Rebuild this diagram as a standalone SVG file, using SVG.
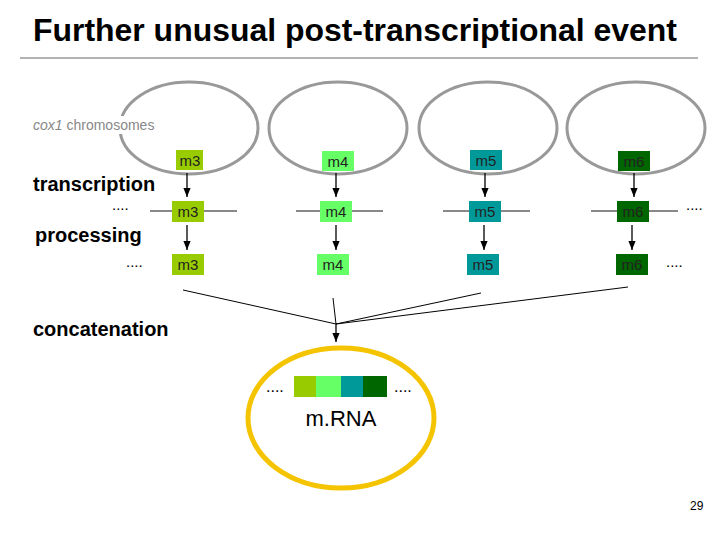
<svg xmlns="http://www.w3.org/2000/svg" width="720" height="540" viewBox="0 0 720 540">
<defs><marker id="a" viewBox="0 0 10 10" refX="10" refY="5" markerWidth="7" markerHeight="7" orient="auto"><path d="M0,1L10,5L0,9z" fill="#000"/></marker></defs>
<style>
text{font-family:"Liberation Sans",Arial,sans-serif}
.chr{fill:none;stroke:#999;stroke-width:3}
.b{font-size:15px;fill:#222;text-anchor:middle}
.lbl{font-size:20px;font-weight:bold}
.ar{stroke:#000;stroke-width:1.3;marker-end:url(#a)}
.gl{stroke:#888;stroke-width:2}
.c3{fill:#99cc00}.c4{fill:#66ff66}.c5{fill:#009999}.c6{fill:#006600}
</style>
<rect width="720" height="540" fill="#fff"/>
<text x="33" y="41" font-size="31" font-weight="bold" textLength="644" lengthAdjust="spacingAndGlyphs">Further unusual post-transcriptional event</text>
<line x1="20" y1="58" x2="698" y2="58" stroke="#666" stroke-width="1"/>
<g id="chromosomes">
<ellipse class="chr" cx="189" cy="128" rx="69" ry="46"/>
<ellipse class="chr" cx="338" cy="128" rx="69" ry="46"/>
<ellipse class="chr" cx="488" cy="128" rx="69" ry="46"/>
<ellipse class="chr" cx="636" cy="128" rx="69" ry="46"/>
<rect x="110" y="116" width="62" height="18" fill="#fff"/>
<text x="33" y="130" font-size="14" fill="#888"><tspan font-style="italic">cox1</tspan> chromosomes</text>
</g>
<text class="lbl" x="33" y="191">transcription</text>
<text class="lbl" x="35" y="242">processing</text>
<text class="lbl" x="33" y="336">concatenation</text>
<g id="connectors">
<line class="gl" x1="150" y1="211" x2="237" y2="211"/>
<line class="gl" x1="296" y1="211" x2="383" y2="211"/>
<line class="gl" x1="443" y1="211" x2="530" y2="211"/>
<line class="gl" x1="591" y1="211" x2="678" y2="211"/>
<line class="ar" x1="187" y1="173" x2="187" y2="197"/>
<line class="ar" x1="336" y1="173" x2="336" y2="197"/>
<line class="ar" x1="485" y1="173" x2="485" y2="197"/>
<line class="ar" x1="634" y1="173" x2="634" y2="197"/>
<line class="ar" x1="187" y1="225" x2="187" y2="250"/>
<line class="ar" x1="336" y1="225" x2="336" y2="250"/>
<line class="ar" x1="484" y1="225" x2="484" y2="250"/>
<line class="ar" x1="632" y1="225" x2="632" y2="250"/>
<g stroke="#000" stroke-width="1" fill="none">
<line x1="183" y1="290" x2="336" y2="324"/>
<line x1="333" y1="298" x2="336" y2="324"/>
<line x1="481" y1="293" x2="336" y2="324"/>
<line x1="628" y1="287" x2="336" y2="324"/>
</g>
<line class="ar" x1="336" y1="324" x2="336" y2="342"/>
</g>
<g id="row1">
<rect class="c3" x="176" y="150" width="27" height="20"/><text class="b" x="190" y="166">m3</text>
<rect class="c4" x="322" y="151" width="32" height="20"/><text class="b" x="338" y="167">m4</text>
<rect class="c5" x="470" y="150" width="32" height="20"/><text class="b" x="486" y="166">m5</text>
<rect class="c6" x="618" y="151" width="32" height="20"/><text class="b" x="634" y="167">m6</text>
</g>
<g id="row2">
<text x="112" y="210" font-size="15">....</text>
<rect class="c3" x="172" y="201" width="32" height="21"/><text class="b" x="188" y="217">m3</text>
<rect class="c4" x="320" y="201" width="32" height="21"/><text class="b" x="336" y="217">m4</text>
<rect class="c5" x="469" y="201" width="32" height="21"/><text class="b" x="485" y="217">m5</text>
<rect class="c6" x="617" y="201" width="32" height="21"/><text class="b" x="633" y="217">m6</text>
<text x="686" y="210" font-size="15">....</text>
</g>
<g id="row3">
<text x="126" y="267" font-size="15">....</text>
<rect class="c3" x="172" y="254" width="32" height="21"/><text class="b" x="188" y="270">m3</text>
<rect class="c4" x="317" y="254" width="32" height="21"/><text class="b" x="333" y="270">m4</text>
<rect class="c5" x="467" y="254" width="32" height="21"/><text class="b" x="483" y="270">m5</text>
<rect class="c6" x="616" y="254" width="32" height="21"/><text class="b" x="632" y="270">m6</text>
<text x="666" y="267" font-size="15">....</text>
</g>
<g id="mrna">
<ellipse cx="341" cy="418" rx="93" ry="70" fill="none" stroke="#f5c400" stroke-width="5"/>
<text x="266" y="392" font-size="16">....</text>
<rect class="c3" x="294" y="376" width="22" height="21"/>
<rect class="c4" x="316" y="376" width="25" height="21"/>
<rect class="c5" x="341" y="376" width="22" height="21"/>
<rect class="c6" x="363" y="376" width="24" height="21"/>
<text x="394" y="392" font-size="16">....</text>
<text x="341" y="426" font-size="22" text-anchor="middle">m.RNA</text>
</g>
<text x="690" y="510" font-size="12">29</text>
</svg>
